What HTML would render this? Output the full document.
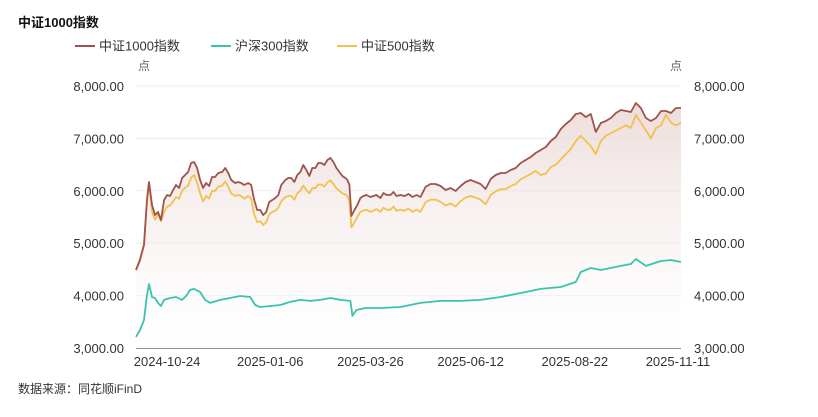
<!DOCTYPE html>
<html><head><meta charset="utf-8"><style>
body{margin:0;background:#fff;font-family:"Liberation Sans","Noto Sans CJK SC",sans-serif;}
svg text{font-family:"Liberation Sans","Noto Sans CJK SC",sans-serif;}
</style></head><body>
<svg id="chart" width="818" height="412" xmlns="http://www.w3.org/2000/svg">
<defs><linearGradient id="ag" x1="0" y1="0" x2="0" y2="1"><stop offset="0" stop-color="#e6d2cf" stop-opacity="0.75"/><stop offset="1" stop-color="#ffffff" stop-opacity="0.3"/></linearGradient></defs>
<text x="18" y="27" font-size="13" font-weight="bold" fill="#111">中证1000指数</text>
<g font-size="13" fill="#333">
<g><line x1="75" y1="46" x2="95" y2="46" stroke="#a0524b" stroke-width="2"/><text x="99" y="50.5">中证1000指数</text></g>
<g><line x1="211" y1="46" x2="231" y2="46" stroke="#3cc3ad" stroke-width="2"/><text x="235" y="50.5">沪深300指数</text></g>
<g><line x1="337" y1="46" x2="357" y2="46" stroke="#f2c14e" stroke-width="2"/><text x="361" y="50.5">中证500指数</text></g>
</g>
<text x="138" y="70" font-size="12" fill="#666">点</text>
<text x="670" y="70" font-size="12" fill="#666">点</text>
<g id="grid"></g><g id="marks"></g><g id="axes"></g>
<text x="18" y="393" font-size="12" fill="#333">数据来源：同花顺iFinD</text>
</svg>
<script>
const yTicks=[3000,4000,5000,6000,7000,8000];
const xTickDays=[15.5,67,117,167,219,270.5];
const xTickLabels=["2024-10-24","2025-01-06","2025-03-26","2025-06-12","2025-08-22","2025-11-11"];
const days1000=[0,2,4,5.5,6.5,8,9.5,11,12.5,14,15.5,17,18.5,20,21.5,23,24.5,26,27.5,29,30.5,32,33.5,35,36.5,38,39.5,41,43,44.5,46,47.5,49.5,51,52.5,54,56,57.5,59,60.5,62,63.5,65,66.5,68,69.5,71,72.5,74.5,76,77.5,79,80.5,82,83.5,85,86.5,88,89.5,91,92.5,94,95.5,97,98.5,100,101.5,103,104.5,105.5,106.5,107.5,109,110.5,112,113.5,115,117,118.5,120,122,123.5,125,127,128.5,130,132,134,136,138,140,142,144.5,147,149.5,152,154.5,157,159.5,162,164.5,167,169.5,172,174.5,177,179.5,182,184.5,187,189.5,192,194.5,197,199.5,202,204.5,207,209.5,212,214.5,217,219.5,222,224.5,227,229.5,232,234.5,237,239.5,242,244.5,247,249.5,252,254.5,257,259.5,262,264.5,267,269.5,272];
const csi1000=[4489,4680,4966,5825,6168,5730,5539,5596,5443,5825,5920,5901,6016,6111,6054,6245,6302,6359,6531,6550,6435,6206,6054,6149,6092,6264,6264,6340,6359,6435,6340,6206,6149,6168,6149,6111,6149,6111,5825,5634,5634,5539,5596,5787,5825,5863,5920,6111,6206,6245,6245,6168,6302,6359,6493,6397,6283,6435,6435,6531,6531,6493,6588,6626,6550,6435,6359,6283,6245,6206,6111,5520,5634,5730,5863,5901,5920,5882,5901,5920,5863,5958,5920,5920,5977,5901,5920,5901,5940,5882,5920,5882,6073,6130,6130,6092,6016,6054,5997,6092,6168,6206,6168,6130,6035,6226,6302,6340,6340,6397,6436,6531,6588,6645,6722,6779,6836,6951,7027,7180,7275,7351,7466,7485,7408,7466,7122,7294,7332,7389,7485,7542,7523,7504,7675,7580,7389,7332,7389,7523,7523,7485,7580,7580];
const csi500=[4489,4700,4990,5850,6150,5600,5450,5550,5420,5600,5700,5720,5800,5880,5850,6000,6060,6100,6250,6300,6150,5950,5800,5900,5850,6000,6000,6080,6100,6180,6080,5950,5900,5920,5900,5850,5900,5850,5550,5400,5420,5350,5400,5550,5600,5620,5680,5800,5880,5900,5900,5830,5950,6000,6100,6020,5950,6050,6050,6120,6120,6080,6160,6200,6130,6050,6000,5950,5930,5900,5800,5300,5400,5500,5600,5620,5640,5600,5620,5650,5600,5680,5640,5640,5700,5620,5640,5620,5660,5600,5640,5600,5780,5830,5830,5790,5720,5760,5700,5800,5870,5900,5870,5830,5740,5920,5990,6030,6030,6090,6130,6220,6270,6320,6380,6300,6330,6450,6500,6600,6700,6800,6950,7050,6950,6850,6700,6950,7050,7100,7150,7200,7250,7200,7450,7300,7150,7000,7200,7250,7450,7300,7250,7300];
const days300=[0,2,4,5.5,6.5,8,9.5,11,12.5,14,17,20,23,25,27,29,32,34.5,37,42,47,52,57,59.5,62,67,72,77,82,87,92,97,102,107,108,110,114.5,122,132,142,152,162,172,182,192,202,212,219.5,222,227,232,242,247,249.5,254.5,262,267,269.5,272];
const csi300=[3211,3344,3535,4012,4222,3974,3955,3860,3802,3917,3955,3974,3917,3993,4108,4127,4069,3917,3860,3917,3955,3993,3974,3821,3783,3802,3821,3879,3917,3898,3917,3955,3917,3898,3612,3726,3764,3764,3783,3860,3898,3898,3917,3974,4050,4127,4165,4260,4451,4527,4489,4566,4604,4699,4566,4661,4680,4661,4642];
const X0=136,X1=681,Y0=348,Y1=86,DMAX=272,VMIN=3000,VMAX=8000;
const xs=d=>X0+(d/DMAX)*(X1-X0);
const ys=v=>Y0-(v-VMIN)/(VMAX-VMIN)*(Y0-Y1);
const NS="http://www.w3.org/2000/svg";
function mk(tag,attrs,parent){const e=document.createElementNS(NS,tag);for(const k in attrs)e.setAttribute(k,attrs[k]);parent.appendChild(e);return e;}
const grid=document.getElementById('grid'),marks=document.getElementById('marks'),axes=document.getElementById('axes');
yTicks.forEach(v=>{
  if(v>VMIN){const g=mk('line',{x1:X0,x2:X1,y1:ys(v),y2:ys(v),stroke:'#ececf0','stroke-width':1},grid);
  
  }
  const lab=v.toLocaleString('en-US',{minimumFractionDigits:2});
  const l=mk('text',{x:124,y:ys(v)+5,'text-anchor':'end','font-size':13,fill:'#333'},axes);l.textContent=lab;
  
  
  const r=mk('text',{x:694,y:ys(v)+5,'font-size':13,fill:'#333'},axes);r.textContent=lab;
  
  
});
const ax=mk('line',{x1:X0,x2:X1,y1:Y0+0.5,y2:Y0+0.5,stroke:'#8a8f99','stroke-width':1},axes);


xTickDays.forEach((d,i)=>{
  const t=mk('text',{x:xs(d),y:366,'text-anchor':'middle','font-size':13,fill:'#333'},axes);t.textContent=xTickLabels[i];
  
  
});
function pts(ds,vs){return ds.map((d,i)=>xs(d).toFixed(1)+','+ys(vs[i]).toFixed(1));}
const p1=pts(days1000,csi1000);
const area=mk('path',{d:'M'+xs(days1000[0])+','+Y0+' L'+p1.join(' L')+' L'+xs(days1000[days1000.length-1])+','+Y0+' Z',fill:'url(#ag)'},marks);


const l3=mk('polyline',{points:pts(days300,csi300).join(' '),fill:'none',stroke:'#3cc3ad','stroke-width':1.8,'stroke-linejoin':'round'},marks);


const l5=mk('polyline',{points:pts(days1000,csi500).join(' '),fill:'none',stroke:'#f2c14e','stroke-width':1.8,'stroke-linejoin':'round'},marks);


const l1=mk('polyline',{points:p1.join(' '),fill:'none',stroke:'#a0524b','stroke-width':1.8,'stroke-linejoin':'round'},marks);


</script>
</body></html>
